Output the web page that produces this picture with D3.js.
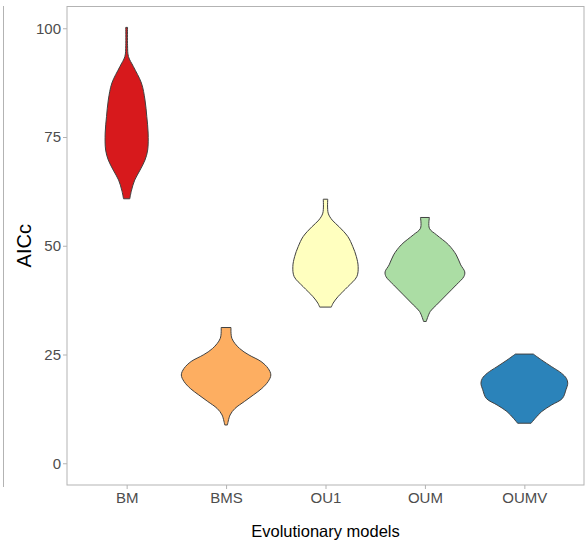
<!DOCTYPE html>
<html lang="en">
<head>
  <meta charset="UTF-8">
  <title>AICc violins</title>
  <style>
    body { margin: 0; background: #fff; }
    text { font-family: "Liberation Sans", Arial, sans-serif; }
  </style>
</head>
<body>
  <div id="svg"></div>
  <script src="https://d3js.org/d3.v7.min.js"></script>
  <script>
    // categories and fill colours
    const models = ['BM', 'BMS', 'OU1', 'OUM', 'OUMV']
    const fills = ['#d7191c', '#fdae61', '#ffffbf', '#abdda4', '#2b83ba']
    const yTicks = [0, 25, 50, 75, 100]

    // violin outlines: AICc levels and relative density at each level
    const bmAICc = [60.8, 62.8, 65.1, 67.4, 69.7, 72.0, 75.9, 79.7, 83.5, 87.4, 91.2, 93.5, 96.0, 100.2]
    const bmDensity = [0.07, 0.11, 0.18, 0.30, 0.41, 0.47, 0.48, 0.45, 0.41, 0.33, 0.15, 0.04, 0.02, 0.02]
    const bmsAICc = [8.8, 11.1, 12.6, 14.2, 15.7, 17.2, 18.8, 20.3, 21.8, 23.4, 24.9, 26.4, 28.7, 31.2]
    const bmsDensity = [0.03, 0.09, 0.20, 0.41, 0.61, 0.80, 0.94, 1.0, 0.94, 0.78, 0.51, 0.30, 0.13, 0.11]
    const ou1AICc = [35.9, 36.8, 38.3, 40.6, 42.9, 45.2, 47.5, 49.8, 52.1, 54.4, 55.9, 57.5, 60.7]
    const ou1Density = [0.13, 0.17, 0.28, 0.50, 0.70, 0.73, 0.69, 0.61, 0.50, 0.30, 0.15, 0.06, 0.05]
    const oumAICc = [32.6, 34.9, 36.4, 38.7, 41.0, 42.9, 44.0, 45.6, 47.9, 50.2, 52.5, 54.0, 56.5]
    const oumDensity = [0.03, 0.12, 0.26, 0.48, 0.70, 0.87, 0.89, 0.80, 0.70, 0.53, 0.26, 0.10, 0.10]
    const oumvAICc = [9.2, 10.3, 11.9, 13.4, 14.9, 16.9, 18.4, 19.5, 20.7, 22.2, 23.7, 25.1]
    const oumvDensity = [0.15, 0.24, 0.39, 0.61, 0.85, 0.93, 0.97, 0.94, 0.83, 0.61, 0.39, 0.20]

    const levels = [bmAICc, bmsAICc, ou1AICc, oumAICc, oumvAICc]
    const dens = [bmDensity, bmsDensity, ou1Density, oumDensity, oumvDensity]
    const violins = models.map((m, i) => ({
      model: m,
      fill: fills[i],
      pts: levels[i].map((v, j) => ({ v: v, d: dens[i][j] }))
    }))

    const width = 588
    const height = 546
    const padding = { top: 6.5, left: 67, bottom: 61, right: 4 }

    const svg = d3.select('#svg').append('svg').attr('width', width).attr('height', height)

    const xScale = d3.scalePoint().domain(models)
      .range([padding.left, width - padding.right]).padding(0.6)
    const yScale = d3.scaleLinear().domain([-5, 105])
      .range([height - padding.bottom, padding.top])
    const wScale = d3.scaleLinear().domain([0, d3.max(dens.flat())])
      .range([0, xScale.step() * 0.45])

    // stray border of the neighbouring panel on the left
    svg.append('line')
      .attr('x1', 3.5).attr('x2', 3.5).attr('y1', 6).attr('y2', 487)
      .attr('stroke', '#b3b3b3').attr('stroke-width', 1)

    // violins
    violins.forEach(vl => {
      const cx = xScale(vl.model)
      const area = d3.area()
        .y(d => yScale(d.v))
        .x0(d => cx - wScale(d.d))
        .x1(d => cx + wScale(d.d))
        .curve(d3.curveCatmullRom.alpha(0.5))
      svg.append('path')
        .datum(vl.pts)
        .attr('d', area)
        .attr('fill', vl.fill)
        .attr('stroke', '#404040')
        .attr('stroke-width', 1)
    })

    // panel border
    svg.append('rect')
      .attr('x', padding.left).attr('y', padding.top)
      .attr('width', width - padding.left - padding.right)
      .attr('height', height - padding.top - padding.bottom)
      .attr('fill', 'none').attr('stroke', '#b3b3b3').attr('stroke-width', 1)

    const yAxis = d3.axisLeft(yScale).tickValues(yTicks).tickSize(4).tickPadding(2)
    const gY = svg.append('g').attr('transform', `translate(${padding.left},0)`).call(yAxis)

    const xAxis = d3.axisBottom(xScale).tickSize(4).tickPadding(3)
    const gX = svg.append('g').attr('transform', `translate(0,${height - padding.bottom})`).call(xAxis)

    ;[gX, gY].forEach(g => {
      g.select('.domain').remove()
      g.selectAll('.tick line').attr('stroke', '#b3b3b3')
      g.selectAll('.tick text')
        .attr('fill', '#4d4d4d')
        .attr('font-size', '15px')
        .attr('font-family', '"Liberation Sans", Arial, sans-serif')
    })

    // axis titles
    svg.append('text')
      .attr('x', (padding.left + width - padding.right) / 2)
      .attr('y', 537)
      .attr('text-anchor', 'middle')
      .attr('font-size', '16.5px')
      .attr('fill', '#000')
      .text('Evolutionary models')

    svg.append('text')
      .attr('transform', `translate(31,${(padding.top + height - padding.bottom) / 2}) rotate(-90)`)
      .attr('text-anchor', 'middle')
      .attr('font-size', '20px')
      .attr('fill', '#000')
      .text('AICc')
  </script>
</body>
</html>
